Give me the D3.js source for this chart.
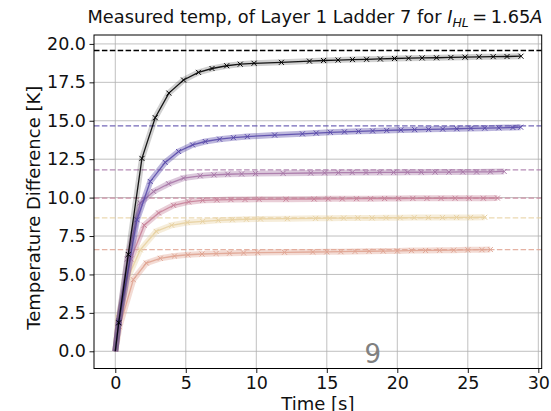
<!DOCTYPE html>
<html>
<head>
<meta charset="utf-8">
<script src="https://cdn.jsdelivr.net/npm/d3@7"></script>
<style>
  body { margin: 0; background: #fff; }
  svg { display: block; font-family: "DejaVu Sans", sans-serif; }
</style>
</head>
<body>
<svg id="chart" width="551" height="411"></svg>
<script>
// Measured temperature rise per sensor, time in seconds, difference in K
const time1 = [0, 0.24, 0.92, 1.89, 2.83, 3.8, 4.84, 5.9, 6.86, 7.9, 8.86, 9.84, 11.78, 13.77, 14.77, 15.8, 16.82, 17.82, 18.8, 19.8, 20.8, 21.76, 22.78, 23.8, 24.8, 25.8, 26.8, 27.78, 28.77];
const temp1 = [0, 1.85, 6.3, 12.55, 15.2, 16.8, 17.65, 18.15, 18.4, 18.58, 18.68, 18.74, 18.8, 18.88, 18.92, 18.95, 18.98, 19.0, 19.02, 19.05, 19.07, 19.09, 19.1, 19.12, 19.14, 19.16, 19.17, 19.18, 19.2];

const time2 = [0, 0.25, 1.54, 2.48, 3.54, 4.49, 5.48, 6.38, 7.4, 8.38, 9.36, 11.3, 13.27, 14.25, 15.25, 16.25, 17.25, 18.25, 19.25, 20.25, 21.23, 22.22, 23.22, 24.22, 25.22, 26.2, 27.2, 28.2, 28.75];
const temp2 = [0, 1.9, 8.56, 11.05, 12.29, 13.0, 13.43, 13.65, 13.8, 13.9, 13.97, 14.07, 14.15, 14.2, 14.25, 14.28, 14.31, 14.34, 14.37, 14.4, 14.42, 14.44, 14.46, 14.48, 14.5, 14.52, 14.54, 14.56, 14.58];

const time3 = [0, 0.25, 0.85, 1.77, 2.72, 3.78, 4.84, 6.02, 7.0, 7.98, 8.96, 9.94, 11.9, 13.86, 14.84, 15.82, 16.8, 17.78, 18.76, 19.74, 20.72, 21.7, 22.68, 23.66, 24.64, 25.62, 26.6, 27.58];
const temp3 = [0, 2.0, 6.0, 9.65, 10.4, 10.9, 11.27, 11.42, 11.48, 11.52, 11.54, 11.56, 11.58, 11.6, 11.61, 11.62, 11.63, 11.63, 11.64, 11.64, 11.65, 11.65, 11.66, 11.66, 11.67, 11.67, 11.68, 11.7];

const time4 = [0, 0.25, 1.1, 2.05, 3.07, 4.13, 5.2, 6.2, 7.2, 8.2, 9.2, 10.2, 12.1, 14.1, 15.1, 16.1, 17.1, 18.1, 19.1, 20.1, 21.1, 22.1, 23.1, 24.1, 25.1, 26.1, 27.1];
const temp4 = [0, 2.0, 6.0, 8.2, 9.0, 9.5, 9.72, 9.82, 9.85, 9.87, 9.88, 9.89, 9.9, 9.91, 9.92, 9.92, 9.93, 9.93, 9.94, 9.94, 9.95, 9.95, 9.95, 9.96, 9.96, 9.96, 9.97];

const time5 = [0, 0.2, 0.9, 1.77, 2.9, 4.0, 5.1, 6.2, 7.3, 8.3, 9.3, 10.3, 12.2, 14.2, 15.2, 16.2, 17.2, 18.2, 19.2, 20.2, 21.2, 22.2, 23.2, 24.2, 25.2, 26.2];
const temp5 = [0, 2.2, 4.8, 6.6, 7.8, 8.2, 8.38, 8.45, 8.52, 8.56, 8.59, 8.61, 8.63, 8.65, 8.66, 8.67, 8.68, 8.68, 8.69, 8.69, 8.7, 8.7, 8.7, 8.71, 8.71, 8.72];

const time6 = [0, 0.3, 1.28, 2.2, 3.19, 4.2, 5.15, 6.15, 7.15, 8.1, 9.1, 10.1, 12.0, 14.0, 15.0, 16.0, 17.0, 18.0, 19.0, 20.0, 21.0, 22.0, 23.0, 24.0, 25.0, 26.0, 26.6];
const temp6 = [0, 1.6, 4.66, 5.74, 6.05, 6.2, 6.28, 6.33, 6.36, 6.38, 6.4, 6.42, 6.44, 6.46, 6.47, 6.48, 6.5, 6.51, 6.52, 6.53, 6.55, 6.56, 6.57, 6.58, 6.6, 6.61, 6.62];

// Asymptotic temperature of each sensor's fit
const asymptotes = [19.57, 14.67, 11.81, 9.96, 8.68, 6.61];
const colors = ["#000000", "#5b4cab", "#a878a8", "#c9849b", "#e8d2a2", "#e0a593"];

const xTicks = [0, 5, 10, 15, 20, 25, 30];
const yTicks = [0, 2.5, 5, 7.5, 10, 12.5, 15, 17.5, 20];
const panelLabel = "9";

const series = [
  [time1, temp1], [time2, temp2], [time3, temp3],
  [time4, temp4], [time5, temp5], [time6, temp6]
].map(([t, v], i) => ({
  color: colors[i],
  asym: asymptotes[i],
  points: t.map((d, j) => ({ t: d, v: v[j] }))
}));

const svg = d3.select("#chart");
const L = 94, R = 541.7, T = 35, B = 368.5;

const x = d3.scaleLinear().domain([-1.51, 30.24]).range([L, R]);
const y = d3.scaleLinear().domain([-1.12, 20.58]).range([B, T]);

// grid
const grid = svg.append("g").attr("stroke", "#b0b0b0").attr("stroke-width", 0.8);
grid.selectAll("line.gx").data(xTicks).join("line")
  .attr("x1", d => x(d)).attr("x2", d => x(d)).attr("y1", T).attr("y2", B);
grid.selectAll("line.gy").data(yTicks).join("line")
  .attr("y1", d => y(d)).attr("y2", d => y(d)).attr("x1", L).attr("x2", R);

const plot = svg.append("g");
svg.append("clipPath").attr("id", "clip")
  .append("rect").attr("x", L).attr("y", T).attr("width", R - L).attr("height", B - T);
plot.attr("clip-path", "url(#clip)");

const line = d3.line().x(d => x(d.t)).y(d => y(d.v));

// draw the lighter series first so the black curve stays on top
series.slice().reverse().forEach(s => {
  const isBlack = s.color === "#000000";
  // asymptote
  plot.append("line")
    .attr("x1", L).attr("x2", R)
    .attr("y1", y(s.asym)).attr("y2", y(s.asym))
    .attr("stroke", s.color).attr("stroke-width", 1.3)
    .attr("stroke-opacity", isBlack ? 1 : 0.85)
    .attr("stroke-dasharray", "5.5,2.4");
  // uncertainty band
  plot.append("path").datum(s.points)
    .attr("d", line).attr("fill", "none")
    .attr("stroke", s.color).attr("stroke-opacity", isBlack ? 0.18 : 0.4)
    .attr("stroke-width", 6).attr("stroke-linejoin", "round");
  // measurement line
  plot.append("path").datum(s.points)
    .attr("d", line).attr("fill", "none")
    .attr("stroke", s.color).attr("stroke-width", 1.3)
    .attr("stroke-opacity", 0.9);
  // markers
  const m = 2.5;
  plot.append("g").selectAll("path").data(s.points.slice(1)).join("path")
    .attr("d", d => {
      const cx = x(d.t), cy = y(d.v);
      return `M${cx - m},${cy - m}L${cx + m},${cy + m}M${cx - m},${cy + m}L${cx + m},${cy - m}`;
    })
    .attr("stroke", s.color).attr("stroke-width", 1).attr("fill", "none");
});

// spines
svg.append("rect").attr("x", L).attr("y", T).attr("width", R - L).attr("height", B - T)
  .attr("fill", "none").attr("stroke", "#000").attr("stroke-width", 1);

// axes
const xAxis = svg.append("g").attr("transform", `translate(0,${B})`)
  .call(d3.axisBottom(x).tickValues(xTicks).tickSize(4.5).tickPadding(3.8).tickFormat(d3.format("d")));
const yAxis = svg.append("g").attr("transform", `translate(${L},0)`)
  .call(d3.axisLeft(y).tickValues(yTicks).tickSize(4.5).tickPadding(3.5).tickFormat(d3.format(".1f")));
[xAxis, yAxis].forEach(a => {
  a.select(".domain").remove();
  a.selectAll("text").attr("font-size", 17.5).attr("fill", "#111")
    .attr("font-family", "DejaVu Sans, sans-serif");
  a.selectAll("line").attr("stroke", "#000").attr("stroke-width", 0.9);
});

// panel label
svg.append("text").attr("x", x(18.26)).attr("y", 363)
  .attr("text-anchor", "middle").attr("font-size", 26).attr("fill", "#808080")
  .text(panelLabel);

// axis titles
svg.append("text").attr("x", (L + R) / 2).attr("y", 409.5)
  .attr("text-anchor", "middle").attr("font-size", 18).attr("fill", "#111").text("Time [s]");
svg.append("text")
  .attr("transform", `translate(39.5,${(T + B) / 2 + 6}) rotate(-90)`)
  .attr("text-anchor", "middle").attr("font-size", 18).attr("fill", "#111")
  .text("Temperature Difference [K]");

// title with math-style current label
const title = svg.append("text").attr("x", 315).attr("y", 23)
  .attr("text-anchor", "middle").attr("font-size", 17.8).attr("fill", "#111");
title.append("tspan").text("Measured temp, of Layer 1 Ladder 7 for ");
title.append("tspan").attr("font-style", "italic").text("I");
title.append("tspan").attr("font-style", "italic").attr("font-size", 12.5).attr("dy", 3.5).text("HL");
title.append("tspan").attr("dy", -3.5).text("\u2009=\u20091.65");
title.append("tspan").attr("font-style", "italic").text("A");
</script>
</body>
</html>
